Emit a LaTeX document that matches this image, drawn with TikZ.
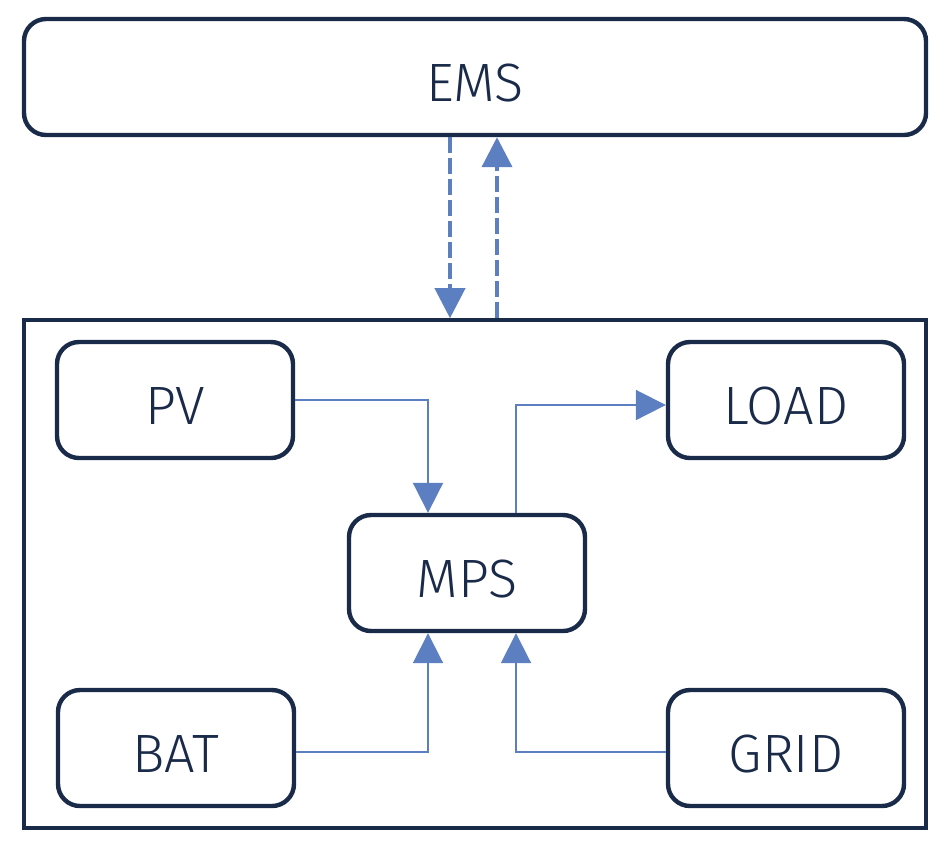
\documentclass[tikz,border=0pt]{standalone}
\usepackage{fontspec}
\setmainfont{Fira Sans}[UprightFont=* Light]
\usepackage{tikz}
\usetikzlibrary{arrows.meta}
\usetikzlibrary{positioning}
\usetikzlibrary{calc}
\definecolor{navy}{RGB}{26, 43, 74}
\definecolor{flow}{RGB}{91, 127, 193}

\begin{document}
\begin{tikzpicture}[x=0.5pt, y=-0.5pt,
    unit/.style={draw=navy, line width=2.2pt, rounded corners=11pt, text=navy,
                 minimum width=118pt, minimum height=58pt, inner sep=0pt,
                 text height=24pt, text depth=0pt,
                 font=\fontsize{27}{30}\selectfont},
    power/.style={-{Triangle[width=15pt, length=15pt]}, draw=flow, line width=1pt},
    signal/.style={-{Triangle[width=15pt, length=15pt]}, draw=flow, line width=2pt,
                   dash pattern=on 8pt off 2.5pt}]

        \useasboundingbox (0,0) rectangle (951,848);

        % outer frame
        \node[draw=navy, line width=1.8pt, minimum width=451pt, minimum height=254pt,
              inner sep=0pt] (frame) at (475,574) {};

        \node[unit, minimum width=451pt] (ems) at (475,77) {EMS};

        \node[unit] (pv) at (175,400) {PV};
        \node[unit] (load) at (786,400) {LOAD};
        \node[unit] (mps) at (467,573) {MPS};
        \node[unit] (bat) at (176,748) {BAT};
        \node[unit] (grid) at (786,748) {GRID};

        % EMS <-> MPS
        \coordinate (emsdown) at ($(ems.south)+(-25,0)$);
        \coordinate (emsup) at ($(ems.south)+(22,0)$);
        \draw[signal] (emsdown) -- (emsdown |- frame.north);
        \draw[signal] (emsup |- frame.north) -- (emsup);

        % power flows
        \coordinate (mpsin) at ($(mps.north)+(-39,0)$);
        \coordinate (mpsout) at ($(mps.north)+(49,0)$);
        \coordinate (mpsbat) at ($(mps.south)+(-39,0)$);
        \coordinate (mpsgrid) at ($(mps.south)+(49,0)$);

        \draw[power] (pv.east) -| (mpsin);
        \draw[power] (mpsout) |- ($(load.west)+(0,5)$);
        \draw[power] ($(bat.east)+(0,4)$) -| (mpsbat);
        \draw[power] ($(grid.west)+(0,4)$) -| (mpsgrid);

    \end{tikzpicture}
\end{document}
